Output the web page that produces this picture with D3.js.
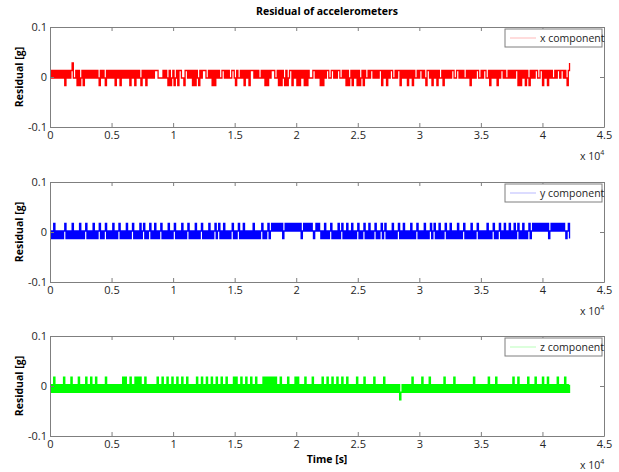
<!DOCTYPE html>
<html>
<head>
<meta charset="utf-8">
<script src="https://cdn.jsdelivr.net/npm/d3@7"></script>
<style>
  html, body { margin: 0; padding: 0; background: #fff; }
  svg { display: block; font-family: "Open Sans", "Noto Sans", sans-serif; }
</style>
</head>
<body>
<div id="chart"></div>
<script>
// ---------------- data ----------------
const chartTitle = "Residual of accelerometers";
const xLabel = "Time [s]";
const yLabel = "Residual [g]";
const tEnd = 42200;                       // last sample time [s]
const xTicks = [0, 5000, 10000, 15000, 20000, 25000, 30000, 35000, 40000, 45000];
const xTickLabels = ["0", "0.5", "1", "1.5", "2", "2.5", "3", "3.5", "4", "4.5"];
const yTicks = [-0.1, 0, 0.1];
const yTickLabels = ["-0.1", "0", "0.1"];
const seriesNames = ["x component", "y component", "z component"];
const seriesColors = ["#ff0000", "#0000ff", "#00ff00"];

// quantised residual levels [g] for each component (code 0,1,2,3)
const xLevels = [-0.017, -0.002, 0.013, 0.028];
const yLevels = [-0.013, 0.002, 0.017];
const zLevels = [-0.0275, -0.0125, 0.0025, 0.0175];

// residual samples, one code per 100 s
const xCodes =
  "1212121212" + "1202121231" + "1202012021" + "2121212121" + "0212102121" +
  "2120212021" + "2121202120" + "2121021202" + "1212122211" + "1121210201" +
  "2012022110" + "2212120202" + "1021222112" + "1202021211" + "2212121122" +
  "1021121202" + "1202221212" + "1121202021" + "2221120202" + "1020122021" +
  "2020212020" + "2111221212" + "0202122112" + "2121221121" + "2020120212" +
  "0201202112" + "1221212122" + "0212021221" + "1212202121" + "2021202112" +
  "1221210221" + "2021202112" + "0212121221" + "1221212112" + "1202121221" +
  "1212211202" + "1212021221" + "2112121212" + "2020212021" + "0212122112" +
  "2021202121" + "1212212212" + "1023";
const yCodes =
  "0102010101" + "0120101020" + "1010201012" + "0101020101" + "2010120101" +
  "0201012010" + "1020101201" + "0102012010" + "1201020101" + "2010102010" +
  "1201010201" + "0120101020" + "1012010102" + "0101201201" + "0201010120" +
  "1012010201" + "0101020101" + "0120101201" + "2121212120" + "1212121212" +
  "1212012121" + "2121012121" + "0102010120" + "1010201201" + "0201020101" +
  "2010120102" + "0101201012" + "0120101020" + "1012010201" + "0102010120" +
  "1010201012" + "0120102010" + "1201020101" + "0201012010" + "1020101201" +
  "0101020101" + "2010120102" + "0102010201" + "2010201012" + "0121212121" +
  "2121201212" + "1212121210" + "120";
const zCodes =
  "1213121212" + "1312121312" + "1213121213" + "1213121312" + "1212131212" +
  "1212121213" + "1312131213" + "1313121312" + "1212121312" + "1312131213" +
  "1213121312" + "1312121213" + "1213121312" + "1312131213" + "1213121213" +
  "1312131213" + "1213121312" + "1213131313" + "1313121312" + "1213121213" +
  "1312121312" + "1213121212" + "1312131213" + "1213121312" + "1312121213" +
  "1212131212" + "1213121212" + "1312121212" + "1212012121" + "2121312121" +
  "2131212131" + "2121212121" + "3121212131" + "2121212121" + "2121312121" +
  "2121213121" + "2131212121" + "2121213121" + "3121212131" + "2121312121" +
  "3121312121" + "2131212131" + "212";

// ---------------- drawing ----------------
const W = 619, H = 472;
const svg = d3.select("#chart").append("svg").attr("width", W).attr("height", H);

function decode(codes, levels) {
  const n = codes.length;
  return Array.from(codes, (c, i) => ({ t: i * tEnd / (n - 1), v: levels[+c] }));
}
const datasets = [decode(xCodes, xLevels), decode(yCodes, yLevels), decode(zCodes, zLevels)];

const left = 50, right = 604;
const panelTops = [27, 182, 336];
const panelH = 100;
const axisColor = "#7f7f7f";
const textColor = "#262626";

const x = d3.scaleLinear().domain([0, 45000]).range([left, right]);

svg.append("text")
  .attr("x", 327).attr("y", 15)
  .attr("text-anchor", "middle")
  .attr("font-size", 10.5).attr("font-weight", "bold").attr("fill", "#000")
  .text(chartTitle);

datasets.forEach((data, k) => {
  const top = panelTops[k], bottom = top + panelH;
  const y = d3.scaleLinear().domain([-0.1, 0.1]).range([bottom, top]);
  const g = svg.append("g");

  // data line (quantised signal drawn as steps)
  g.append("path")
    .datum(data)
    .attr("fill", "none")
    .attr("stroke", seriesColors[k])
    .attr("stroke-width", 1.3)
    .attr("d", d3.line().curve(d3.curveStepAfter).x(d => x(d.t)).y(d => y(d.v)));

  // axes
  const fmtX = d => xTickLabels[xTicks.indexOf(d)];
  const fmtY = d => yTickLabels[yTicks.indexOf(d)];
  const ax = [
    g.append("g").attr("transform", `translate(0,${bottom})`)
      .call(d3.axisBottom(x).tickValues(xTicks).tickFormat(fmtX).tickSizeInner(-4).tickSizeOuter(0).tickPadding(4)),
    g.append("g").attr("transform", `translate(0,${top})`)
      .call(d3.axisTop(x).tickValues(xTicks).tickFormat("").tickSizeInner(-4).tickSizeOuter(0)),
    g.append("g").attr("transform", `translate(${left},0)`)
      .call(d3.axisLeft(y).tickValues(yTicks).tickFormat(fmtY).tickSizeInner(-4).tickSizeOuter(0).tickPadding(3)),
    g.append("g").attr("transform", `translate(${right},0)`)
      .call(d3.axisRight(y).tickValues(yTicks).tickFormat("").tickSizeInner(-4).tickSizeOuter(0))
  ];
  ax.forEach(a => {
    a.select(".domain").attr("stroke", axisColor);
    a.selectAll(".tick line").attr("stroke", axisColor);
    a.selectAll(".tick text").attr("fill", textColor).attr("font-size", 11)
      .attr("font-family", "'Open Sans', sans-serif");
  });

  // exponent label
  const ex = g.append("text")
    .attr("x", 580).attr("y", bottom + 33)
    .attr("font-size", 10.5).attr("fill", textColor);
  ex.append("tspan").text("x 10");
  ex.append("tspan").attr("dy", -5).attr("font-size", 7).text("4");

  // y label
  g.append("text")
    .attr("transform", `translate(23,${(top + bottom) / 2}) rotate(-90)`)
    .attr("text-anchor", "middle")
    .attr("font-size", 10.5).attr("font-weight", "bold").attr("fill", "#000")
    .text(yLabel);

  // legend
  const lx = 505, ly = top + 2, lw = 97, lh = 18;
  g.append("rect").attr("x", lx).attr("y", ly).attr("width", lw).attr("height", lh)
    .attr("fill", "#fff").attr("stroke", axisColor).attr("stroke-width", 1);
  g.append("line")
    .attr("x1", lx + 5).attr("x2", lx + 31).attr("y1", ly + lh / 2).attr("y2", ly + lh / 2)
    .attr("stroke", seriesColors[k]).attr("stroke-opacity", 0.35).attr("stroke-width", 0.8);
  g.append("text")
    .attr("x", lx + 35).attr("y", ly + lh / 2 + 3.5)
    .attr("font-size", 10.5).attr("fill", textColor)
    .text(seriesNames[k]);
});

svg.append("text")
  .attr("x", 327).attr("y", 463)
  .attr("text-anchor", "middle")
  .attr("font-size", 10.5).attr("font-weight", "bold").attr("fill", "#000")
  .text(xLabel);
</script>
</body>
</html>
